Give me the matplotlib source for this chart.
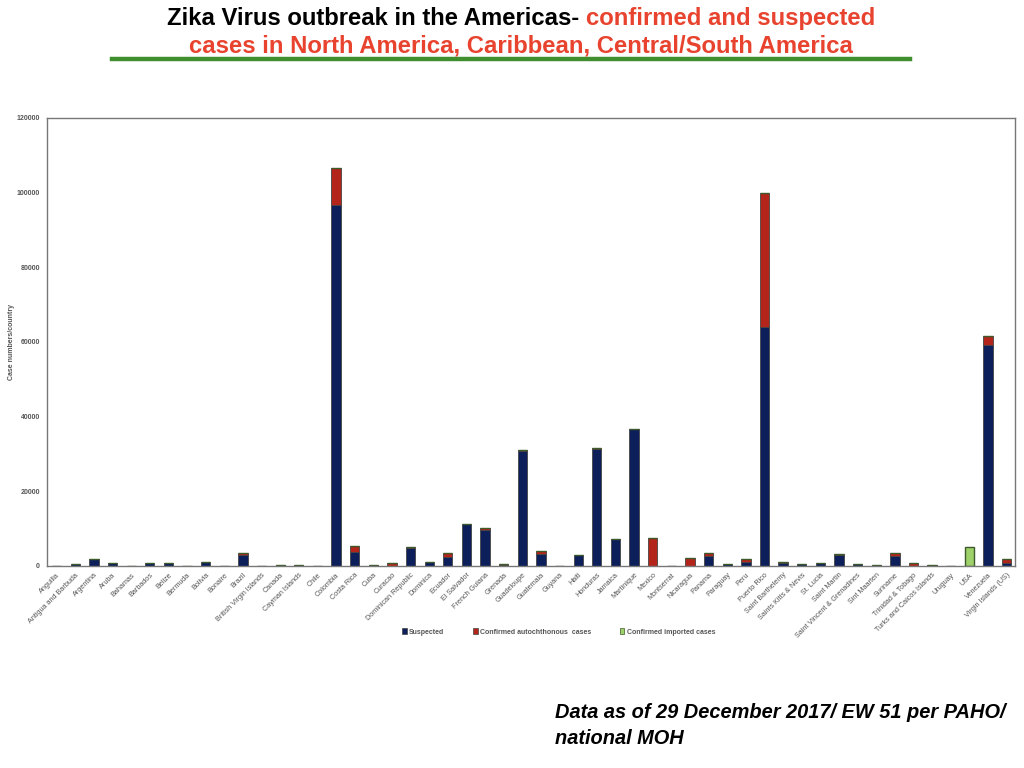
import matplotlib
matplotlib.use("Agg")
import matplotlib.pyplot as plt
from matplotlib.patches import Patch
from matplotlib.lines import Line2D
import numpy as np

countries = ["Anguilla", "Antigua and Barbuda", "Argentina", "Aruba", "Bahamas", "Barbados",
             "Belize", "Bermuda", "Bolivia", "Bonaire", "Brazil", "British Virgin Islands",
             "Canada", "Cayman Islands", "Chile", "Colombia", "Costa Rica", "Cuba", "Curacao",
             "Dominican Republic", "Dominica", "Ecuador", "El Salvador", "French Guiana",
             "Grenada", "Guadeloupe", "Guatemala", "Guyana", "Haiti", "Honduras", "Jamaica",
             "Martinique", "Mexico", "Montserrat", "Nicaragua", "Panama", "Paraguay", "Peru",
             "Puerto Rico", "Saint Barthelemy", "Saints Kitts & Nevis", "St. Lucia",
             "Saint Martin", "Saint Vincent & Grenadines", "Sint Maarten", "Suriname",
             "Trinidad & Tobago", "Turks and Caicos Islands", "Uruguay", "USA", "Venezuela",
             "Virgin Islands (US)"]

suspected = [30, 500, 1800, 750, 30, 700,
             850, 0, 950, 40, 2860, 40,
             0, 250, 0, 96800, 3750, 0, 0,
             4900, 1100, 2500, 11300, 9700,
             330, 30800, 3130, 0, 2870, 31400, 7100,
             36600, 0, 0, 0, 2600, 500, 1150,
             64000, 850, 500, 780,
             3000, 500, 170, 2600,
             0, 200, 0, 0, 59200,
             700]

confirmed = [20, 20, 90, 50, 25, 100,
             50, 5, 130, 20, 620, 20,
             0, 30, 0, 9800, 1550, 190, 720,
             200, 80, 1080, 50, 500,
             110, 200, 810, 90, 20, 300, 200,
             50, 7400, 100, 2060, 750, 30, 650,
             36000, 110, 30, 50,
             150, 30, 100, 880,
             720, 50, 0, 0, 2350,
             1100]

imported = [0, 0, 0, 0, 0, 0,
            0, 0, 0, 0, 0, 0,
            400, 0, 40, 0, 0, 0, 0,
            0, 0, 0, 0, 0,
            0, 0, 0, 0, 0, 0, 0,
            0, 100, 0, 80, 130, 0, 0,
            0, 0, 0, 0,
            0, 0, 0, 0,
            50, 0, 50, 5100, 0,
            0]

yticks = [0, 20000, 40000, 60000, 80000, 100000, 120000]

plt.rcParams['font.family'] = ['Liberation Sans', 'DejaVu Sans']

fig = plt.figure(figsize=(10.24, 7.68), dpi=100)
ax = fig.add_axes([47/1024, 1 - 566/768, (1015-47)/1024, (566-118)/768])

x = np.arange(len(countries))
s = np.array(suspected, dtype=float)
c = np.array(confirmed, dtype=float)
im = np.array(imported, dtype=float)

col_s = '#0c1f5b'
col_c = '#b3251a'
col_i = '#9fd16a'
w = 0.5
ax.bar(x, s, w, color=col_s, edgecolor='#444444', linewidth=0.6)
ax.bar(x, c, w, bottom=s, color=col_c, edgecolor='#444444', linewidth=0.6)
ax.bar(x, im, w, bottom=s + c, color=col_i, edgecolor='#3d5a2a', linewidth=1.0)

ax.set_xlim(-0.52, len(countries) - 1 + 0.45)
ax.set_ylim(0, 120000)
ax.set_yticks(yticks)
ax.set_yticklabels([str(v) for v in yticks], fontsize=5, color='#555555', fontweight='bold')
ax.set_xticks(x)
ax.set_xticklabels(countries, rotation=45, ha='right', rotation_mode='anchor',
                   fontsize=5.2, color='#555555')
ax.tick_params(axis='both', length=0)
ax.tick_params(axis='y', pad=5)
ax.tick_params(axis='x', pad=4)
for sp in ax.spines.values():
    sp.set_color('#777777')
    sp.set_linewidth(1.0)
ax.set_ylabel('Case numbers/country', fontsize=5, color='#555555', fontweight='bold', labelpad=1.5)

handles = [Patch(facecolor=col_s, edgecolor='#444444', linewidth=0.5),
           Patch(facecolor=col_c, edgecolor='#444444', linewidth=0.5),
           Patch(facecolor=col_i, edgecolor='#3d5a2a', linewidth=0.5)]
labels = ['Suspected', 'Confirmed autochthonous  cases', 'Confirmed imported cases']
leg = fig.legend(handles, labels, loc='center left', bbox_to_anchor=(396/1024, 1 - 632/768),
                 ncol=3, frameon=False, handlelength=0.7, handleheight=0.9,
                 handletextpad=0.3, columnspacing=4.1, prop={'size': 5, 'weight': 'bold'})
for t in leg.get_texts():
    t.set_color('#555555')

# Title (two colours on first line)
tfam = ['Liberation Sans', 'DejaVu Sans']
tsize = 17.2
cx = 521 / 1024
y1 = 1 - 18.5 / 768
y2 = 1 - 46 / 768
black_part = 'Zika Virus outbreak in the Americas- '
red_part = 'confirmed and suspected'
red_col = '#e8432e'
t1 = fig.text(0, y1, black_part, fontsize=tsize, fontweight='bold', family=tfam,
              color='black', ha='left', va='center')
t2 = fig.text(0, y1, red_part, fontsize=tsize, fontweight='bold', family=tfam,
              color=red_col, ha='left', va='center')
fig.canvas.draw()
r = fig.canvas.get_renderer()
w1 = t1.get_window_extent(r).width / fig.bbox.width
w2 = t2.get_window_extent(r).width / fig.bbox.width
start = cx - (w1 + w2) / 2
t1.set_x(start)
t2.set_x(start + w1)
fig.text(cx, y2, 'cases in North America, Caribbean, Central/South America', fontsize=tsize,
         fontweight='bold', family=tfam, color=red_col, ha='center', va='center')

fig.add_artist(Line2D([112/1024, 910/1024], [1 - 58.5/768, 1 - 58.5/768],
                      color='#3f8f2f', linewidth=3.2, transform=fig.transFigure))

fig.text(555/1024, 1 - 713/768, 'Data as of 29 December 2017/ EW 51 per PAHO/',
         fontsize=14.4, fontweight='bold', style='italic', color='black', ha='left', va='center')
fig.text(555/1024, 1 - 738/768, 'national MOH',
         fontsize=14.4, fontweight='bold', style='italic', color='black', ha='left', va='center')

fig.savefig('out.png', dpi=100)
